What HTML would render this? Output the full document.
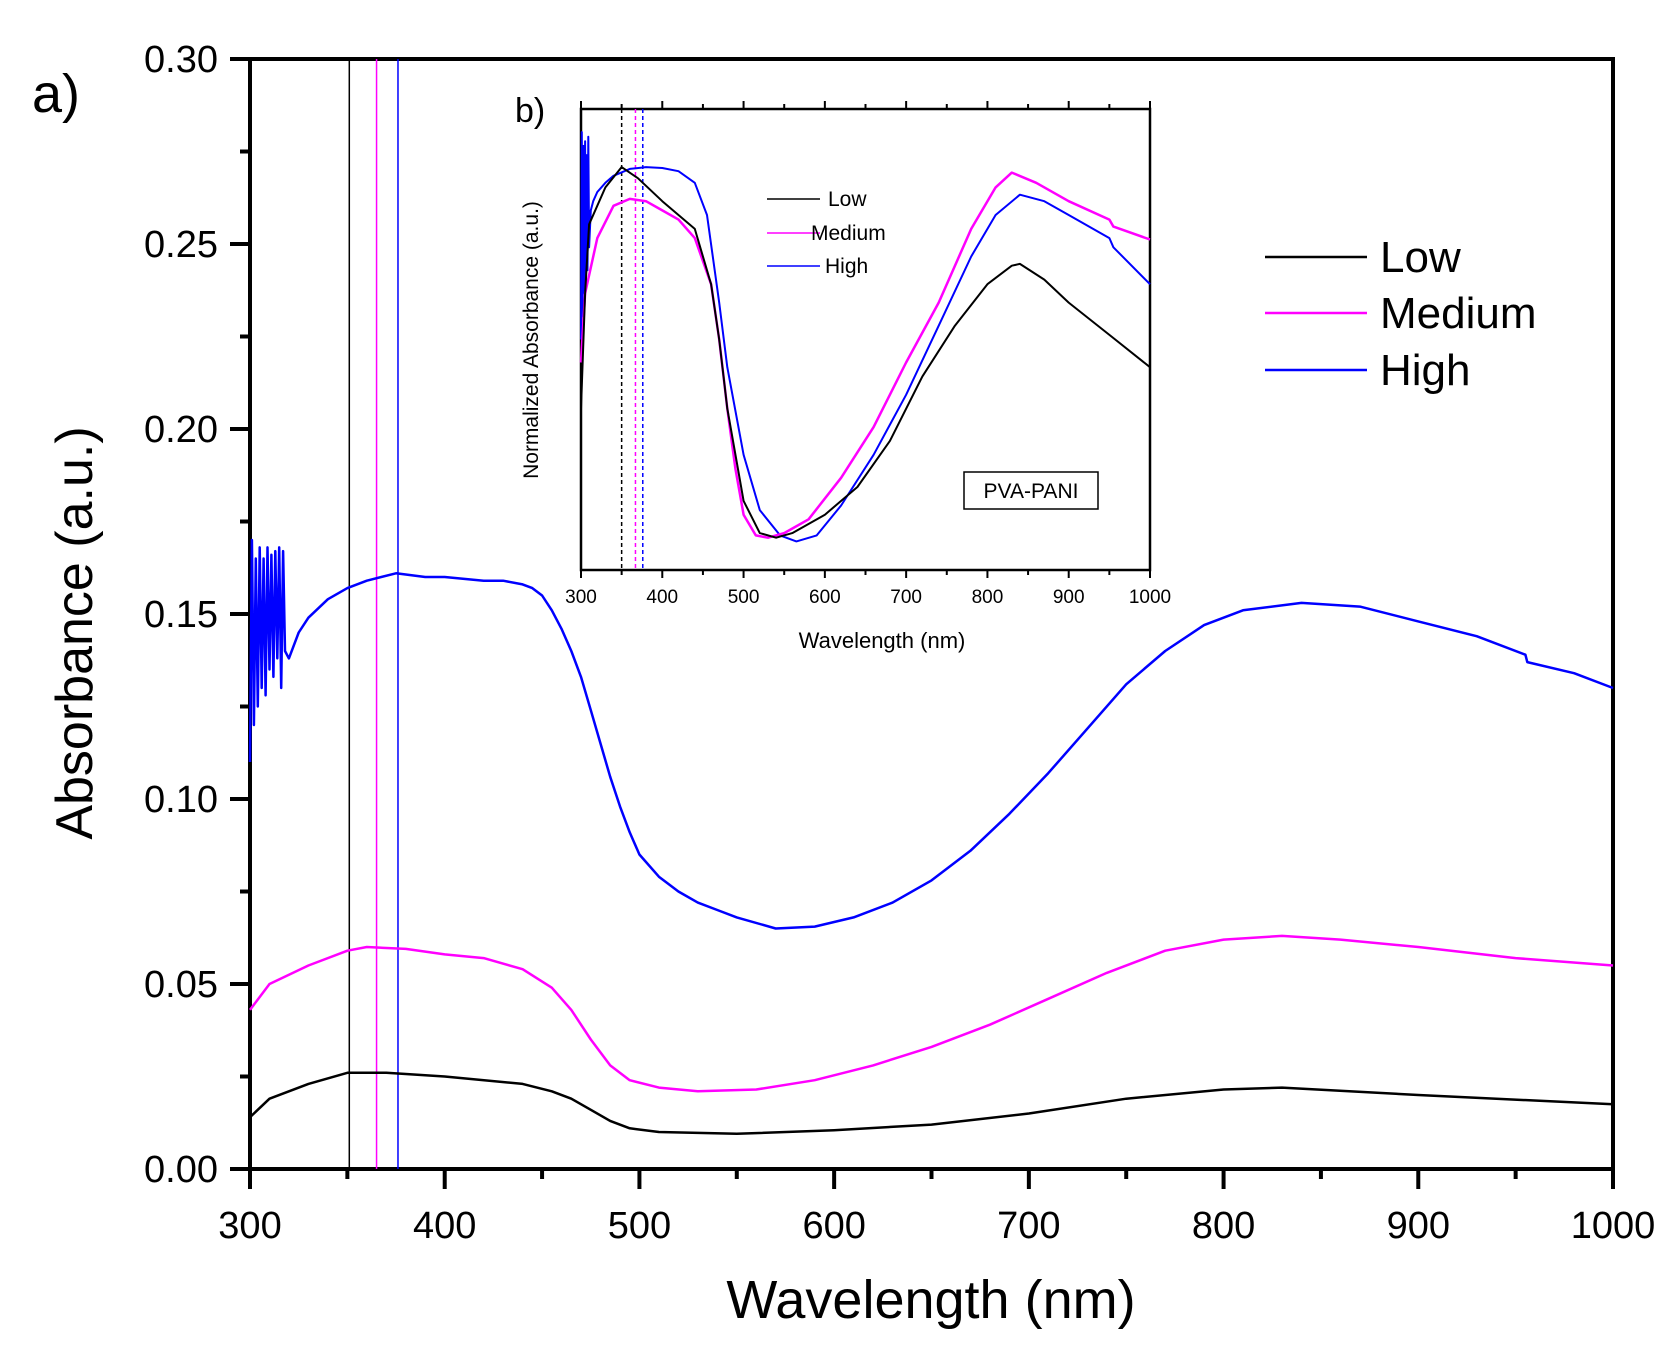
<!DOCTYPE html>
<html><head><meta charset="utf-8"><style>
html,body{margin:0;padding:0;background:#fff;}
svg{display:block;font-family:"Liberation Sans",Arial,sans-serif;}
</style></head><body>
<svg id="chart" width="1678" height="1349" viewBox="0 0 1678 1349"></svg>
<script>
// ===== Main chart data =====
const xTicks = [300,400,500,600,700,800,900,1000];
const yTicks = [0.00,0.05,0.10,0.15,0.20,0.25,0.30];
const yTickLabels = ["0.00","0.05","0.10","0.15","0.20","0.25","0.30"];
const peakLines = [351,365,376];
const highWl = [300,301,302,303,304,305,306,307,308,309,310,311,312,313,314,315,316,317,318,320,325,330,340,350,360,375,390,400,420,430,440,445,450,455,460,465,470,475,480,485,490,495,500,510,520,530,540,550,570,590,610,630,650,670,690,710,730,750,770,790,810,840,870,900,930,955,956,980,1000];
const highVal = [0.11,0.17,0.12,0.165,0.125,0.168,0.13,0.165,0.128,0.168,0.135,0.166,0.133,0.167,0.138,0.168,0.13,0.167,0.14,0.138,0.145,0.149,0.154,0.157,0.159,0.161,0.160,0.160,0.159,0.159,0.158,0.157,0.155,0.151,0.146,0.140,0.133,0.124,0.115,0.106,0.098,0.091,0.085,0.079,0.075,0.072,0.070,0.068,0.065,0.0655,0.068,0.072,0.078,0.086,0.096,0.107,0.119,0.131,0.140,0.147,0.151,0.153,0.152,0.148,0.144,0.139,0.137,0.134,0.130];
const medWl = [300,310,330,350,360,380,400,420,440,455,465,475,485,495,510,530,560,590,620,650,680,710,740,770,800,830,860,900,950,1000];
const medVal = [0.043,0.050,0.055,0.059,0.060,0.0595,0.058,0.057,0.054,0.049,0.043,0.035,0.028,0.024,0.022,0.021,0.0215,0.024,0.028,0.033,0.039,0.046,0.053,0.059,0.062,0.063,0.062,0.060,0.057,0.055];
const lowWl = [300,310,330,350,370,400,440,455,465,475,485,495,510,550,600,650,700,750,800,830,900,1000];
const lowVal = [0.014,0.019,0.023,0.026,0.026,0.025,0.023,0.021,0.019,0.016,0.013,0.011,0.010,0.0095,0.0105,0.012,0.015,0.019,0.0215,0.022,0.020,0.0175];

// ===== Inset data (normalized) =====
const insetXTicks = [300,400,500,600,700,800,900,1000];
const insetDash = [350,367,376];
const iHighWl = [300,301,302,303,304,305,306,307,308,309,310,312,315,320,330,340,360,380,400,420,440,455,470,480,500,520,545,565,590,620,660,700,740,780,810,840,870,900,950,955,1000];
const iHighVal = [0.5,0.95,0.55,0.92,0.6,0.93,0.62,0.9,0.65,0.94,0.7,0.78,0.8,0.82,0.84,0.855,0.87,0.874,0.872,0.865,0.84,0.77,0.58,0.44,0.25,0.13,0.075,0.062,0.075,0.14,0.25,0.38,0.53,0.68,0.77,0.814,0.80,0.77,0.72,0.70,0.62];
const iMedWl = [300,305,320,340,360,380,400,420,440,460,470,480,490,500,515,530,550,580,620,660,700,740,780,810,830,860,900,950,955,1000];
const iMedVal = [0.45,0.6,0.72,0.79,0.805,0.80,0.78,0.76,0.72,0.62,0.50,0.35,0.22,0.12,0.075,0.070,0.08,0.11,0.20,0.31,0.45,0.58,0.74,0.83,0.862,0.84,0.80,0.76,0.745,0.717];
const iLowWl = [300,305,310,330,350,370,400,440,460,470,480,500,520,540,560,600,640,680,720,760,800,830,840,870,900,950,1000];
const iLowVal = [0.35,0.6,0.75,0.83,0.874,0.85,0.80,0.74,0.62,0.50,0.35,0.15,0.08,0.07,0.08,0.12,0.18,0.28,0.42,0.53,0.62,0.66,0.664,0.63,0.58,0.51,0.44];

const NS="http://www.w3.org/2000/svg";
const svg=document.getElementById('chart');
function mk(tag,attrs,parent){const e=document.createElementNS(NS,tag);for(const k in attrs)e.setAttribute(k,attrs[k]);(parent||svg).appendChild(e);return e;}

const L=250,R=1613,T=59,B=1169;
const xs=w=>L+(w-300)/700*(R-L);
const ys=v=>B-v/0.30*(B-T);

const frame=mk('rect',{x:L,y:T,width:R-L,height:B-T,fill:'none',stroke:'#000','stroke-width':4});



const plColors=['#000','#ff00ff','#0000ff'];
peakLines.forEach((w,i)=>{
  const l=mk('line',{x1:xs(w),x2:xs(w),y1:T,y2:B,stroke:plColors[i],'stroke-width':1.5});
  
  
});

for(let w=300;w<=1000;w+=50){
  const major=(w%100===0);
  const t=mk('line',{x1:xs(w),x2:xs(w),y1:B,y2:B+(major?20:10),stroke:'#000','stroke-width':4});
  
  
}
xTicks.forEach(w=>{
  const t=mk('text',{x:xs(w),y:1238,'font-size':38,'text-anchor':'middle'});
  t.textContent=w;
  
  
});
for(let k=0;k<=12;k++){
  const v=k*0.025;const major=(k%2===0);
  const t=mk('line',{x1:L-(major?20:10),x2:L,y1:ys(v),y2:ys(v),stroke:'#000','stroke-width':4});
  
  
}
yTicks.forEach((v,i)=>{
  const t=mk('text',{x:218,y:ys(v)+13,'font-size':38,'text-anchor':'end'});
  t.textContent=yTickLabels[i];
  
  
});
let tt=mk('text',{x:931,y:1318,'font-size':54,'text-anchor':'middle'});
tt.textContent='Wavelength (nm)';


tt=mk('text',{x:0,y:0,'font-size':52,'text-anchor':'middle',transform:'translate(92,633) rotate(-90)'});
tt.textContent='Absorbance (a.u.)';


tt=mk('text',{x:32,y:112,'font-size':54});
tt.textContent='a)';



function series(wl,val,fx,fy,color,name,sw){
  const p=mk('polyline',{points:wl.map((w,i)=>fx(w).toFixed(1)+','+fy(val[i]).toFixed(1)).join(' '),fill:'none',stroke:color,'stroke-width':sw,'stroke-linejoin':'round'});
  
  
}
series(lowWl,lowVal,xs,ys,'#000','series-low',2.5);
series(medWl,medVal,xs,ys,'#ff00ff','series-medium',2.5);
series(highWl,highVal,xs,ys,'#0000ff','series-high',2.5);

const legNames=['Low','Medium','High'],legY=[257,313,370];
legNames.forEach((n,i)=>{
  const l=mk('line',{x1:1265,x2:1367,y1:legY[i],y2:legY[i],stroke:plColors[i],'stroke-width':2.5});
  
  
  const t=mk('text',{x:1380,y:legY[i]+15,'font-size':44});
  t.textContent=n;
  
  
});

// ===== Inset =====
const iL=581,iR=1150,iT=109,iB=570;
const ixs=w=>iL+(w-300)/700*(iR-iL);
const iys=v=>iB-v*(iB-iT);
const ibg=mk('rect',{x:iL,y:iT,width:iR-iL,height:iB-iT,fill:'#fff',stroke:'#000','stroke-width':2.5});


insetDash.forEach((w,i)=>{
  const l=mk('line',{x1:ixs(w),x2:ixs(w),y1:iT,y2:iB,stroke:plColors[i],'stroke-width':1.5,'stroke-dasharray':'4,3'});
  
  
});
for(let w=300;w<=1000;w+=50){
  const major=(w%100===0);
  let t=mk('line',{x1:ixs(w),x2:ixs(w),y1:iB,y2:iB+(major?8:5),stroke:'#000','stroke-width':2});
  
  
  t=mk('line',{x1:ixs(w),x2:ixs(w),y1:iT,y2:iT-(major?8:5),stroke:'#000','stroke-width':2});
  
  
}
insetXTicks.forEach(w=>{
  const t=mk('text',{x:ixs(w),y:603,'font-size':19,'text-anchor':'middle'});
  t.textContent=w;
  
  
});
tt=mk('text',{x:882,y:648,'font-size':22,'text-anchor':'middle'});
tt.textContent='Wavelength (nm)';


tt=mk('text',{x:0,y:0,'font-size':21,'text-anchor':'middle',transform:'translate(538,340) rotate(-90)'});
tt.textContent='Normalized Absorbance (a.u.)';


tt=mk('text',{x:515,y:122,'font-size':34});
tt.textContent='b)';



series(iHighWl,iHighVal,ixs,iys,'#0000ff','inset-series-high',2);
series(iMedWl,iMedVal,ixs,iys,'#ff00ff','inset-series-medium',2.5);
series(iLowWl,iLowVal,ixs,iys,'#000','inset-series-low',2);

const iLegY=[199,233,266];
legNames.forEach((n,i)=>{
  const l=mk('line',{x1:767,x2:820,y1:iLegY[i],y2:iLegY[i],stroke:plColors[i],'stroke-width':1.5});
  
  
  const t=mk('text',{x:[828,811,825][i],y:iLegY[i]+7,'font-size':21});
  t.textContent=n;
  
  
});
const box=mk('rect',{x:964,y:472,width:134,height:37,fill:'#fff',stroke:'#000','stroke-width':1.5});


tt=mk('text',{x:1031,y:498,'font-size':21,'text-anchor':'middle'});
tt.textContent='PVA-PANI';


</script>
</body></html>
